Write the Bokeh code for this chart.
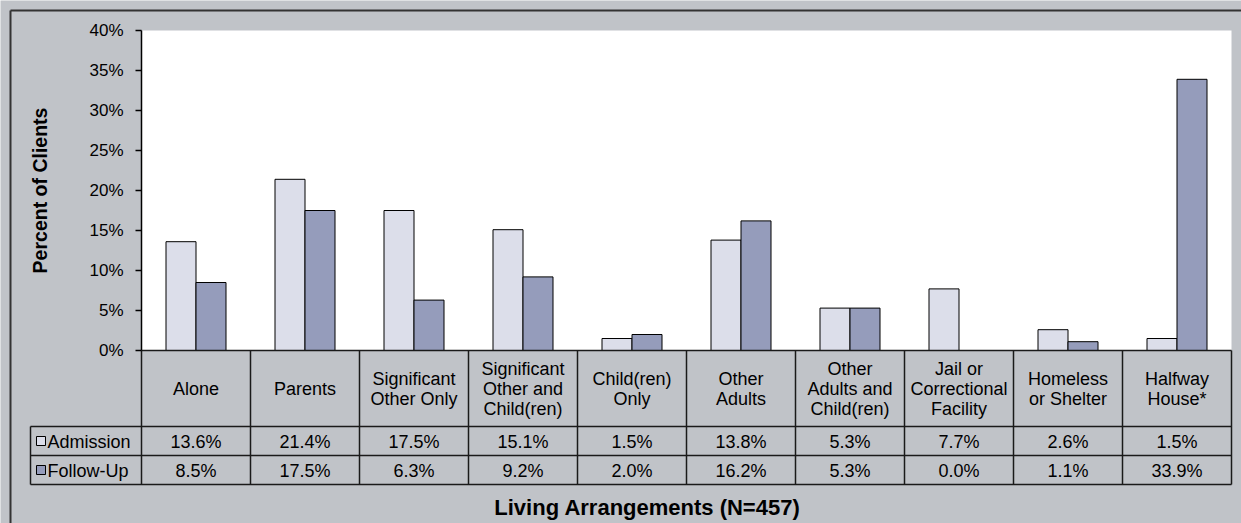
from bokeh.plotting import figure
from bokeh.models import LinearAxis, FixedTicker, PrintfTickFormatter, ColumnDataSource, Range1d
from bokeh.core.properties import value
from bokeh.transform import dodge
from bokeh.embed import file_html
from bokeh.resources import INLINE

# ---------------- data ----------------
categories = ["Alone", "Parents", "Significant\nOther Only", "Significant\nOther and\nChild(ren)",
              "Child(ren)\nOnly", "Other\nAdults", "Other\nAdults and\nChild(ren)",
              "Jail or\nCorrectional\nFacility", "Homeless\nor Shelter", "Halfway\nHouse*"]
admission = [13.6, 21.4, 17.5, 15.1, 1.5, 13.8, 5.3, 7.7, 2.6, 1.5]
follow_up = [8.5, 17.5, 6.3, 9.2, 2.0, 16.2, 5.3, 0.0, 1.1, 33.9]
series_names = ["Admission", "Follow-Up"]
y_ticks = [0, 5, 10, 15, 20, 25, 30, 35, 40]
y_title = "Percent of Clients"
x_title = "Living Arrangements  (N=457)"

# ---------------- layout constants (picture pixels) ----------------
W, H = 1241, 523
ORIGIN = 0           # picture pixel of the figure's top-left corner
COL_W = 109.0        # px per category column
PX_PER_PCT = 8.0     # px per percentage point
X_AXIS_PX = 141      # x of the value axis
Y_ZERO_PX = 350      # y of 0%
Y_MAX = 40
BAR_W_PX = 30

def dx(xp):
    return (xp - X_AXIS_PX) / COL_W - 0.5

def dy(yp):
    return (Y_ZERO_PX - yp) / PX_PER_PCT

FONT = value("Liberation Sans")
TABLE_FS = value("18px")
BG = "#C0C3C8"
ADM = "#DCDEEA"
FUP = "#959CBB"
LINE = "#1a1a1a"

n = len(categories)
xs = list(range(n))

p = figure(width=W, height=H, output_backend="svg", toolbar_location=None,
           x_range=Range1d(dx(ORIGIN), dx(ORIGIN + W)),
           y_range=Range1d(dy(ORIGIN + H), dy(ORIGIN)),
           x_axis_location=None, y_axis_location=None,
           min_border=0, tools="")
p.background_fill_color = BG
p.border_fill_color = BG
p.outline_line_color = None
p.grid.visible = False

# outer frame (top and left edges)
p.segment(x0=[dx(10), dx(10)], y0=[dy(10), dy(10)], x1=[dx(ORIGIN + W + 5), dx(10)], y1=[dy(10), dy(ORIGIN + H + 5)],
          line_color="#333333", line_width=2)

# plot area
p.quad(left=[-0.5], right=[n - 0.5], bottom=[0], top=[Y_MAX], fill_color="white", line_color=None)

src = ColumnDataSource(dict(x=xs, cat=categories, adm=admission, fup=follow_up,
                            adm_t=[f"{v:.1f}%" for v in admission],
                            fup_t=[f"{v:.1f}%" for v in follow_up]))
bw = BAR_W_PX / COL_W
p.vbar(x=dodge("x", -bw / 2, range=p.x_range), top="adm", bottom=0, width=bw, source=src,
       fill_color=ADM, line_color="black", line_width=1)
p.vbar(x=dodge("x", bw / 2, range=p.x_range), top="fup", bottom=0, width=bw, source=src,
       fill_color=FUP, line_color="black", line_width=1)

# value axis
yaxis = LinearAxis(fixed_location=-0.5, bounds=(0, Y_MAX), ticker=FixedTicker(ticks=y_ticks),
                   formatter=PrintfTickFormatter(format="%d%%"))
yaxis.major_tick_out = 6
yaxis.major_tick_in = 0
yaxis.minor_tick_out = 0
yaxis.minor_tick_in = 0
yaxis.axis_line_color = "black"
yaxis.axis_line_width = 1.5
yaxis.major_tick_line_color = "black"
yaxis.major_tick_line_width = 1.5
yaxis.major_label_standoff = 12
yaxis.major_label_text_font = "Liberation Sans"
yaxis.major_label_text_font_size = "17px"
yaxis.major_label_text_color = "black"
yaxis.axis_label = y_title
yaxis.axis_label_text_font = "Liberation Sans"
yaxis.axis_label_text_font_style = "bold"
yaxis.axis_label_text_font_size = "19.5px"
yaxis.axis_label_text_color = "black"
yaxis.axis_label_standoff = 35
p.add_layout(yaxis, "left")

# data table grid
row_bottoms = [dy(426), dy(455), dy(484)]
legend_left = dx(30)
seg_x0, seg_y0, seg_x1, seg_y1 = [], [], [], []
seg_x0.append(-0.5); seg_y0.append(0); seg_x1.append(n - 0.5); seg_y1.append(0)
for yb in row_bottoms:
    seg_x0.append(legend_left); seg_y0.append(yb); seg_x1.append(n - 0.5); seg_y1.append(yb)
for k in range(n + 1):
    xk = k - 0.5
    seg_x0.append(xk); seg_y0.append(0); seg_x1.append(xk); seg_y1.append(row_bottoms[-1])
seg_x0.append(legend_left); seg_y0.append(row_bottoms[0]); seg_x1.append(legend_left); seg_y1.append(row_bottoms[-1])
p.segment(x0=seg_x0, y0=seg_y0, x1=seg_x1, y1=seg_y1, line_color=LINE, line_width=1.5)

# header labels
p.text(x="x", y=row_bottoms[0] / 2, text="cat", source=src, text_align="center", text_baseline="middle",
       text_font=FONT, text_font_size=TABLE_FS, text_color="black", text_line_height=1.0)
# values
yr1 = (row_bottoms[0] + row_bottoms[1]) / 2
yr2 = (row_bottoms[1] + row_bottoms[2]) / 2
p.text(x="x", y=yr1, text="adm_t", source=src, text_align="center", text_baseline="middle",
       text_font=FONT, text_font_size=TABLE_FS, text_color="black", y_offset=1)
p.text(x="x", y=yr2, text="fup_t", source=src, text_align="center", text_baseline="middle",
       text_font=FONT, text_font_size=TABLE_FS, text_color="black", y_offset=1)

# legend keys inside the table
p.scatter(x=[dx(40.5), dx(40.5)], y=[yr1, yr2], marker="square", size=9,
          fill_color=[ADM, FUP], line_color="black", line_width=1)
p.text(x=[dx(47), dx(47)], y=[yr1, yr2], text=series_names, text_align="left", text_baseline="middle",
       text_font=FONT, text_font_size=TABLE_FS, text_color="black", y_offset=1)

# category axis title
p.text(x=[dx(650)], y=[dy(507)], text=[x_title], text_align="center", text_baseline="middle",
       text_font=FONT, text_font_style="bold", text_font_size=value("22px"), text_color="black")

open("out.html", "w").write(file_html(p, INLINE))
